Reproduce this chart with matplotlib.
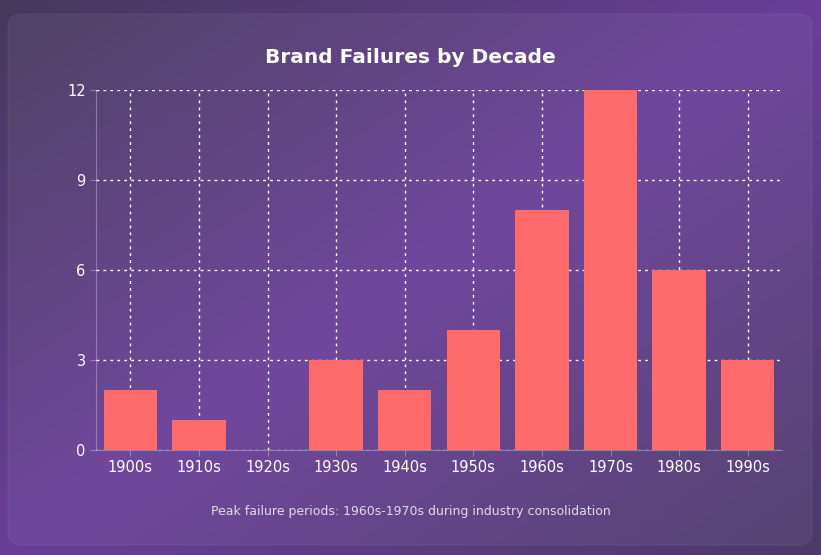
import numpy as np
import matplotlib.pyplot as plt
from matplotlib.patches import FancyBboxPatch
from matplotlib.colors import LinearSegmentedColormap

decades = ["1900s", "1910s", "1920s", "1930s", "1940s", "1950s", "1960s", "1970s", "1980s", "1990s"]
failures = [2, 1, 0, 3, 2, 4, 8, 12, 6, 3]
yticks = [0, 3, 6, 9, 12]

W, H = 821, 555
fig = plt.figure(figsize=(W / 100, H / 100), dpi=100)

# diagonal purple gradient background
bg = fig.add_axes([0, 0, 1, 1])
xx, yy = np.meshgrid(np.linspace(0, 1, 200), np.linspace(0, 1, 200))
t = (xx + (1 - yy)) / 2
cmap = LinearSegmentedColormap.from_list("bg", ["#45395c", "#6a3e98", "#4c3a6a"])
bg.imshow(t, cmap=cmap, aspect="auto", extent=[0, 1, 0, 1], origin="lower")
panel = FancyBboxPatch((8 / W, 10 / H), 804 / W, 531 / H,
                       boxstyle="round,pad=0,rounding_size=0.02",
                       transform=bg.transAxes, facecolor="white", alpha=0.05,
                       edgecolor=(1, 1, 1, 0.15), linewidth=1)
bg.add_patch(panel)
bg.axis("off")

ax = fig.add_axes([96 / W, 1 - 450 / H, 686 / W, 360 / H])
ax.patch.set_alpha(0)
x = np.arange(len(decades))
ax.bar(x, failures, width=0.78, color="#ff6b6b", zorder=3)
ax.set_xlim(-0.5, len(decades) - 0.5)
ax.set_ylim(0, 12)
ax.set_yticks(yticks)
ax.set_xticks(x)
ax.set_xticklabels(decades)
ax.tick_params(colors="white", labelsize=10.5, length=4)
ax.tick_params(axis="both", color=(1, 1, 1, 0.3))
ax.grid(True, color=(1, 1, 1, 0.15), linestyle=(0, (2, 3)), linewidth=1, zorder=0)
for s in ["top", "right"]:
    ax.spines[s].set_visible(False)
for s in ["left", "bottom"]:
    ax.spines[s].set_color((1, 1, 1, 0.3))

fig.text(0.5, 1 - 57 / H, "Brand Failures by Decade", color="white",
         fontsize=14.5, fontweight="bold", ha="center", va="center")
fig.text(0.5, 1 - 512 / H, "Peak failure periods: 1960s-1970s during industry consolidation",
         color=(1, 1, 1, 0.8), fontsize=9, ha="center", va="center")

fig.savefig("out.png", dpi=100)
